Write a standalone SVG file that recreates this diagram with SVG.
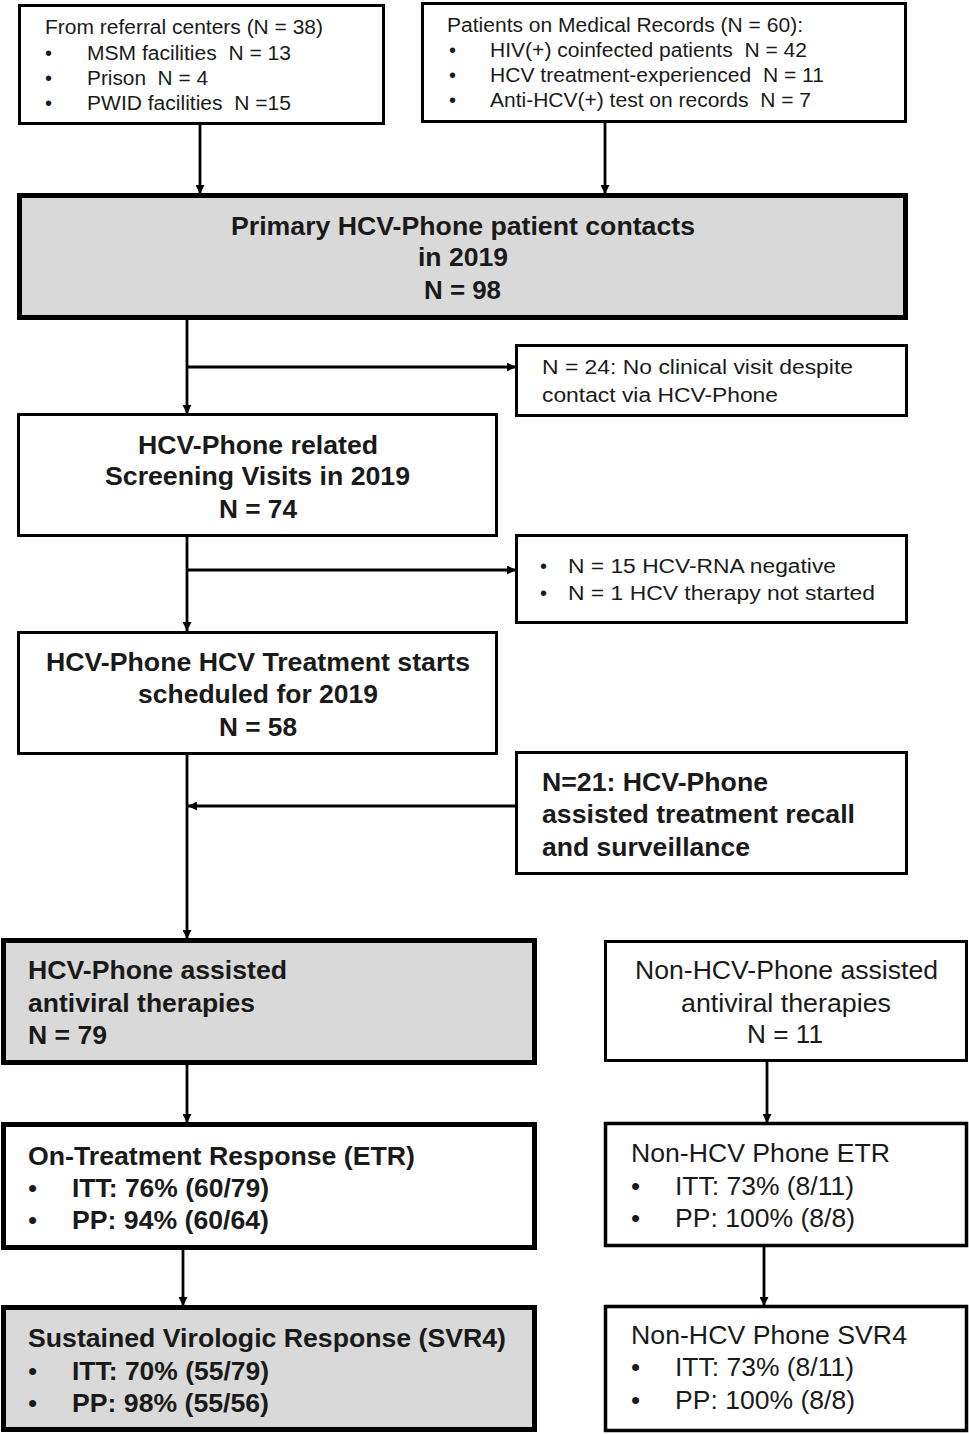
<svg xmlns="http://www.w3.org/2000/svg" width="969" height="1434" viewBox="0 0 969 1434">
<style>
.bx{fill:#fff;stroke:#000;stroke-width:3}
.bk{fill:#fff;stroke:#000;stroke-width:5}
.gy{fill:#d9d9d9;stroke:#000;stroke-width:5}
.t{font-family:"Liberation Sans",Arial,sans-serif;fill:#1a1a1a}
.s{font-size:20px}
.m{font-size:26px}
.b{font-weight:bold}
.c{text-anchor:middle}
.ln{stroke:#000;stroke-width:2.8;fill:none}
</style>
<defs>
<marker id="ah" viewBox="0 0 10 10" refX="10" refY="5" markerWidth="10" markerHeight="9" markerUnits="userSpaceOnUse" orient="auto">
<path d="M0,0 L10,5 L0,10 Z" fill="#000"/>
</marker>
</defs>
<rect width="969" height="1434" fill="#fff"/>
<g id="connectors">
<line class="ln" x1="200" y1="125" x2="200" y2="194" marker-end="url(#ah)"/>
<line class="ln" x1="605" y1="122" x2="605" y2="194" marker-end="url(#ah)"/>
<line class="ln" x1="187" y1="318" x2="187" y2="414" marker-end="url(#ah)"/>
<line class="ln" x1="187" y1="367" x2="516" y2="367" marker-end="url(#ah)"/>
<line class="ln" x1="187" y1="535" x2="187" y2="631" marker-end="url(#ah)"/>
<line class="ln" x1="187" y1="570" x2="516" y2="570" marker-end="url(#ah)"/>
<line class="ln" x1="187" y1="753" x2="187" y2="939" marker-end="url(#ah)"/>
<line class="ln" x1="516" y1="806" x2="188" y2="806" marker-end="url(#ah)"/>
<line class="ln" x1="187" y1="1063" x2="187" y2="1123" marker-end="url(#ah)"/>
<line class="ln" x1="767" y1="1060" x2="767" y2="1123" marker-end="url(#ah)"/>
<line class="ln" x1="183" y1="1248" x2="183" y2="1306" marker-end="url(#ah)"/>
<line class="ln" x1="764" y1="1245" x2="764" y2="1306" marker-end="url(#ah)"/>
</g>
<g id="referral">
<rect class="bx" x="19.5" y="5.5" width="364" height="118"/>
<text class="t s" x="45" y="34" textLength="278" lengthAdjust="spacingAndGlyphs">From referral centers (N = 38)</text>
<text class="t s" x="45" y="60">•</text><text class="t s" x="87" y="60" textLength="204" lengthAdjust="spacingAndGlyphs">MSM facilities&#160; N = 13</text>
<text class="t s" x="45" y="85">•</text><text class="t s" x="87" y="85" textLength="121" lengthAdjust="spacingAndGlyphs">Prison&#160; N = 4</text>
<text class="t s" x="45" y="110">•</text><text class="t s" x="87" y="110" textLength="204" lengthAdjust="spacingAndGlyphs">PWID facilities&#160; N =15</text>
</g>
<g id="records">
<rect class="bx" x="422.5" y="3.5" width="483" height="118"/>
<text class="t s" x="447" y="32" textLength="356" lengthAdjust="spacingAndGlyphs">Patients on Medical Records (N = 60):</text>
<text class="t s" x="449" y="57">•</text><text class="t s" x="490" y="57" textLength="317" lengthAdjust="spacingAndGlyphs">HIV(+) coinfected patients&#160; N = 42</text>
<text class="t s" x="449" y="82">•</text><text class="t s" x="490" y="82" textLength="334" lengthAdjust="spacingAndGlyphs">HCV treatment-experienced&#160; N = 11</text>
<text class="t s" x="449" y="107">•</text><text class="t s" x="490" y="107" textLength="321" lengthAdjust="spacingAndGlyphs">Anti-HCV(+) test on records&#160; N = 7</text>
</g>
<g id="primary">
<rect class="gy" x="19.5" y="195.5" width="886" height="122"/>
<text class="t m b" x="231" y="235" textLength="464" lengthAdjust="spacingAndGlyphs">Primary HCV-Phone patient contacts</text>
<text class="t m b" x="418" y="266" textLength="90" lengthAdjust="spacingAndGlyphs">in 2019</text>
<text class="t m b" x="424" y="299" textLength="77" lengthAdjust="spacingAndGlyphs">N = 98</text>
</g>
<g id="novisit">
<rect class="bx" x="516.5" y="345.5" width="390" height="70"/>
<text class="t s" x="542" y="374" textLength="311" lengthAdjust="spacingAndGlyphs">N = 24: No clinical visit despite</text>
<text class="t s" x="542" y="402" textLength="236" lengthAdjust="spacingAndGlyphs">contact via HCV-Phone</text>
</g>
<g id="screening">
<rect class="bx" x="18.5" y="414.5" width="478" height="121"/>
<text class="t m b" x="138" y="454" textLength="240" lengthAdjust="spacingAndGlyphs">HCV-Phone related</text>
<text class="t m b" x="105" y="485" textLength="305" lengthAdjust="spacingAndGlyphs">Screening Visits in 2019</text>
<text class="t m b" x="219" y="518" textLength="78" lengthAdjust="spacingAndGlyphs">N = 74</text>
</g>
<g id="excluded">
<rect class="bx" x="516.5" y="535.5" width="390" height="87"/>
<text class="t s" x="540" y="573">•</text><text class="t s" x="568" y="573" textLength="268" lengthAdjust="spacingAndGlyphs">N = 15 HCV-RNA negative</text>
<text class="t s" x="540" y="600">•</text><text class="t s" x="568" y="600" textLength="307" lengthAdjust="spacingAndGlyphs">N = 1 HCV therapy not started</text>
</g>
<g id="scheduled">
<rect class="bx" x="18.5" y="632.5" width="478" height="121"/>
<text class="t m b" x="46" y="671" textLength="424" lengthAdjust="spacingAndGlyphs">HCV-Phone HCV Treatment starts</text>
<text class="t m b" x="138" y="703" textLength="240" lengthAdjust="spacingAndGlyphs">scheduled for 2019</text>
<text class="t m b" x="219" y="736" textLength="78" lengthAdjust="spacingAndGlyphs">N = 58</text>
</g>
<g id="recall">
<rect class="bx" x="516.5" y="752.5" width="390" height="121"/>
<text class="t m b" x="542" y="791" textLength="226" lengthAdjust="spacingAndGlyphs">N=21: HCV-Phone</text>
<text class="t m b" x="542" y="823" textLength="313" lengthAdjust="spacingAndGlyphs">assisted treatment recall</text>
<text class="t m b" x="542" y="856" textLength="208" lengthAdjust="spacingAndGlyphs">and surveillance</text>
</g>
<g id="assisted">
<rect class="gy" x="3.5" y="940.5" width="531" height="122"/>
<text class="t m b" x="28" y="979" textLength="259" lengthAdjust="spacingAndGlyphs">HCV-Phone assisted</text>
<text class="t m b" x="28" y="1012" textLength="227" lengthAdjust="spacingAndGlyphs">antiviral therapies</text>
<text class="t m b" x="28" y="1044" textLength="79" lengthAdjust="spacingAndGlyphs">N = 79</text>
</g>
<g id="nonassisted">
<rect class="bx" x="605.5" y="941.5" width="361" height="119"/>
<text class="t m" x="635" y="979" textLength="303" lengthAdjust="spacingAndGlyphs">Non-HCV-Phone assisted</text>
<text class="t m" x="681" y="1012" textLength="210" lengthAdjust="spacingAndGlyphs">antiviral therapies</text>
<text class="t m" x="747" y="1043" textLength="76" lengthAdjust="spacingAndGlyphs">N = 11</text>
</g>
<g id="etr">
<rect class="bk" x="3.5" y="1124.5" width="531" height="123"/>
<text class="t m b" x="28" y="1165" textLength="387" lengthAdjust="spacingAndGlyphs">On-Treatment Response (ETR)</text>
<text class="t m" x="28" y="1197">•</text><text class="t m b" x="72" y="1197" textLength="197" lengthAdjust="spacingAndGlyphs">ITT: 76% (60/79)</text>
<text class="t m" x="28" y="1229">•</text><text class="t m b" x="72" y="1229" textLength="197" lengthAdjust="spacingAndGlyphs">PP: 94% (60/64)</text>
</g>
<g id="nonetr">
<rect class="bx" x="605.5" y="1123.5" width="361" height="122" style="stroke-width:3.5"/>
<text class="t m" x="631" y="1162" textLength="259" lengthAdjust="spacingAndGlyphs">Non-HCV Phone ETR</text>
<text class="t m" x="631" y="1195">•</text><text class="t m" x="675" y="1195" textLength="179" lengthAdjust="spacingAndGlyphs">ITT: 73% (8/11)</text>
<text class="t m" x="631" y="1227">•</text><text class="t m" x="675" y="1227" textLength="180" lengthAdjust="spacingAndGlyphs">PP: 100% (8/8)</text>
</g>
<g id="svr4">
<rect class="gy" x="3.5" y="1307.5" width="531" height="122"/>
<text class="t m b" x="28" y="1347" textLength="478" lengthAdjust="spacingAndGlyphs">Sustained Virologic Response (SVR4)</text>
<text class="t m" x="28" y="1380">•</text><text class="t m b" x="72" y="1380" textLength="197" lengthAdjust="spacingAndGlyphs">ITT: 70% (55/79)</text>
<text class="t m" x="28" y="1412">•</text><text class="t m b" x="72" y="1412" textLength="197" lengthAdjust="spacingAndGlyphs">PP: 98% (55/56)</text>
</g>
<g id="nonsvr4">
<rect class="bx" x="605.5" y="1306.5" width="361" height="124" style="stroke-width:3.5"/>
<text class="t m" x="631" y="1344" textLength="276" lengthAdjust="spacingAndGlyphs">Non-HCV Phone SVR4</text>
<text class="t m" x="631" y="1376">•</text><text class="t m" x="675" y="1376" textLength="179" lengthAdjust="spacingAndGlyphs">ITT: 73% (8/11)</text>
<text class="t m" x="631" y="1409">•</text><text class="t m" x="675" y="1409" textLength="180" lengthAdjust="spacingAndGlyphs">PP: 100% (8/8)</text>
</g>
</svg>
